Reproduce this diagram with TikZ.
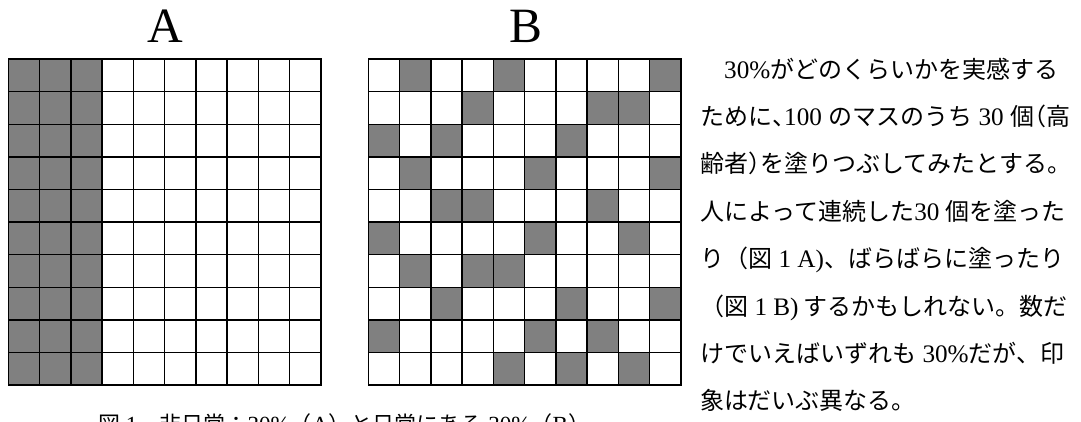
\documentclass[tikz,border=0pt]{standalone}
\usepackage{fontspec}
\setmainfont{Liberation Serif}[Scale=1.05]
\newfontfamily\cjk{Noto Sans CJK JP}
\newcommand\latn[1]{{\rmfamily #1}}
\newcommand\hwl[1]{\makebox[12pt][l]{#1}}
\newcommand\hwr[1]{\makebox[12pt][r]{#1}}
\definecolor{cellgray}{HTML}{808080}
\tikzset{
  gridline/.style={draw=black,line width=1.4pt,line cap=rect},
  bigletter/.style={anchor=base,inner sep=0pt,font=\rmfamily\fontsize{47}{47}\selectfont},
  txt/.style={anchor=base west,inner sep=0pt,font=\cjk\fontsize{24}{24}\selectfont},
  captxt/.style={anchor=base west,inner sep=0pt,font=\cjk\fontsize{22}{22}\selectfont},
}
\begin{document}
\begin{tikzpicture}[x=1pt,y=-1pt]
\useasboundingbox (0,0) rectangle (1081,421);
\fill[white] (0,0) rectangle (1081,421);
\def\cw{31.27}
\def\ch{32.6}
% labels
\node[bigletter] (labA) at (165.7,42) {A};
\node[bigletter] (labB) at (525.7,42) {B};
% grid A fill
\foreach \c in {0,1,2}
  \fill[cellgray] ({8.3+\c*\cw},59) rectangle ++(\cw,{10*\ch});
% grid B fill
\foreach \r/\c in {1/2,1/5,1/10, 2/4,2/8,2/9, 3/1,3/3,3/7, 4/2,4/6,4/10,
                   5/3,5/4,5/8, 6/1,6/6,6/9, 7/2,7/4,7/5, 8/3,8/7,8/10,
                   9/1,9/6,9/8, 10/5,10/7,10/9}
  \fill[cellgray] ({368.3+(\c-1)*\cw},{59+(\r-1)*\ch}) rectangle ++(\cw,\ch);
% grid lines
\foreach \xo in {8.3,368.3}{
  \foreach \i in {0,...,10}{
    \draw[gridline] ({\xo+\i*\cw},59) -- ++(0,{10*\ch});
    \draw[gridline] (\xo,{59+\i*\ch}) -- ++({10*\cw},0);
  }
}
% body text
\node[txt] (t1) at (700,78) {　\latn{30\%}がどのくらいかを実感する};
\node[txt] (t2) at (700,125.4) {ために\hwl{、}\latn{100 }のマスのうち\latn{ 30 }個\hwr{（}高};
\node[txt] (t3) at (700,172.8) {齢者\hwl{）}を塗りつぶしてみたとする。};
\node[txt] (t4) at (700,220.2) {人によって連続した\latn{30 }個を塗った};
\node[txt] (t5) at (700,267.6) {り（図\latn{ 1 A)}、ばらばらに塗ったり};
\node[txt] (t6) at (700,315) {（図\latn{ 1 B)} するかもしれない。数だ};
\node[txt] (t7) at (700,362.4) {けでいえばいずれも\latn{ 30\%}だが、印};
\node[txt] (t8) at (700,409.8) {象はだいぶ異なる。};
% caption (cut off at the bottom edge)
\node[captxt] (cap) at (98,432) {図\latn{ 1}　非日常：\latn{30\%}（\latn{A}）と日常にある\latn{ 30\%}（\latn{B}）};
\end{tikzpicture}
\end{document}
